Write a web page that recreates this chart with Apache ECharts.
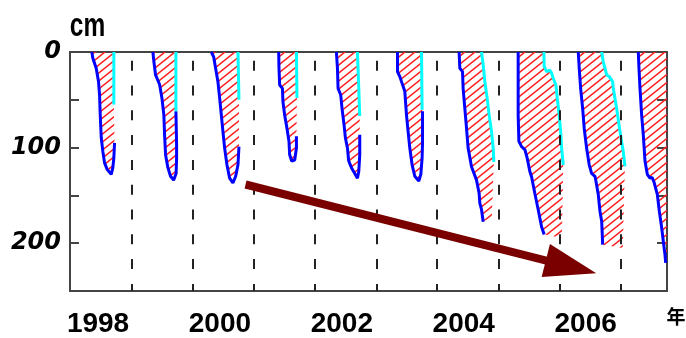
<!DOCTYPE html>
<html>
<head>
<meta charset="utf-8">
<script src="https://cdn.jsdelivr.net/npm/echarts@6/dist/echarts.min.js"></script>
<style>
  html, body { margin: 0; padding: 0; background: #fff; }
  #chart { width: 686px; height: 338px; }
</style>
</head>
<body>
<div id="chart"></div>
<script>
// Axis labels
const yearTicks = [1998, 2000, 2002, 2004, 2006];
const depthLabels = [0, 100, 200];

// Summer boundaries between winters (decimal year)
const seasonBreaks = [1998.56, 1999.55, 2000.56, 2001.56, 2002.57, 2003.56, 2004.57, 2005.58, 2006.58];

// Trend arrow [decimal year, depth cm]
const trendArrow = [[2000.42, 138.6], [2005.76, 224.8]];

// Frost front (freezing downward, then thawing back up from below), [decimal year, depth cm]
const frost1998 = [[1997.898, 0], [1997.915, 6.6], [1997.970, 17], [1998.008, 31], [1998.025, 45], [1998.036, 66], [1998.053, 90], [1998.079, 104], [1998.107, 116], [1998.151, 123], [1998.217, 128], [1998.243, 121], [1998.259, 111], [1998.271, 95]];
const frost1999 = [[1998.900, 0], [1998.916, 10], [1998.944, 24], [1999.010, 34], [1999.048, 48], [1999.080, 66], [1999.092, 87], [1999.108, 107.5], [1999.146, 121], [1999.190, 130], [1999.240, 134], [1999.281, 127], [1999.289, 111], [1999.289, 97], [1999.278, 62]];
const frost2000 = [[1999.859, 0], [1999.897, 5], [1999.929, 17], [1999.967, 31], [1999.995, 48], [2000.023, 66], [2000.049, 83], [2000.077, 100.5], [2000.115, 118], [2000.159, 132], [2000.213, 137], [2000.258, 130], [2000.296, 118], [2000.312, 99]];
const frost2001 = [[2000.964, 0], [2000.969, 17], [2000.980, 34.5], [2001.025, 38], [2001.034, 52], [2001.062, 66], [2001.100, 80], [2001.133, 93.5], [2001.144, 107.5], [2001.177, 114], [2001.227, 113], [2001.255, 100.5], [2001.255, 88]];
const frost2002 = [[2001.911, 0], [2001.928, 17], [2001.938, 38], [2001.982, 45], [2002.003, 59], [2002.036, 76], [2002.059, 90], [2002.092, 100.5], [2002.113, 114], [2002.158, 121], [2002.212, 127], [2002.256, 132], [2002.278, 125], [2002.294, 107.5], [2002.294, 86.6]];
const frost2003 = [[2002.913, 0], [2002.913, 20.5], [2002.951, 25.7], [2002.979, 31], [2003.033, 41], [2003.061, 66], [2003.087, 83], [2003.115, 100.5], [2003.153, 118], [2003.197, 130], [2003.263, 135], [2003.296, 128], [2003.317, 111], [2003.324, 95], [2003.324, 62]];
const frost2004 = [[2003.924, 0], [2003.936, 17], [2003.980, 20.5], [2003.990, 38], [2004.018, 59], [2004.046, 80], [2004.072, 100.5], [2004.128, 120], [2004.210, 134], [2004.253, 148], [2004.264, 158], [2004.292, 165], [2004.319, 177.5]];
const frost2005 = [[2004.893, 0], [2004.893, 66], [2004.905, 93.5], [2004.949, 99], [2005.003, 102], [2005.041, 111], [2005.085, 125], [2005.113, 130.5], [2005.167, 148], [2005.222, 165], [2005.278, 183], [2005.320, 191]];
const frost2006 = [[2005.879, 0], [2005.895, 17], [2005.918, 38], [2005.951, 59], [2005.977, 80], [2006.016, 100.5], [2006.059, 118], [2006.098, 127], [2006.153, 130], [2006.169, 135], [2006.207, 149], [2006.235, 166.5], [2006.263, 177], [2006.273, 191], [2006.279, 201.5]];
const frost2007 = [[2006.864, 0], [2006.875, 17], [2006.892, 38], [2006.919, 66], [2006.946, 86.6], [2006.974, 114], [2007.012, 128], [2007.056, 132], [2007.089, 131], [2007.122, 136], [2007.176, 149], [2007.209, 166.5], [2007.248, 184], [2007.274, 198], [2007.302, 212], [2007.313, 220.5]];

// Thaw front from the surface, [decimal year, depth cm]
const thaw1998 = [[1998.259, 0], [1998.259, 55]];
const thaw1999 = [[1999.278, 0], [1999.278, 62]];
const thaw2000 = [[2000.296, 0], [2000.312, 50]];
const thaw2001 = [[2001.255, 0], [2001.264, 48]];
const thaw2002 = [[2002.256, 0], [2002.266, 17], [2002.294, 67]];
const thaw2003 = [[2003.307, 0], [2003.317, 60.5]];
const thaw2004 = [[2004.292, 0], [2004.319, 13.6], [2004.346, 31], [2004.384, 48], [2004.417, 66], [2004.456, 83], [2004.483, 100.5], [2004.494, 115]];
const thaw2005 = [[2005.315, 0], [2005.320, 15], [2005.360, 20.5], [2005.414, 19], [2005.442, 22], [2005.468, 27.5], [2005.512, 34.5], [2005.534, 48], [2005.567, 66], [2005.590, 83], [2005.606, 100.5], [2005.633, 118]];
const thaw2006 = [[2006.263, 0], [2006.289, 10], [2006.345, 24], [2006.388, 25.7], [2006.443, 31], [2006.453, 38], [2006.509, 59], [2006.563, 83], [2006.617, 104], [2006.645, 119.6]];
const thaw2007 = [];

// Undrawn edges of the frozen layer where no front was traced
const edge2004 = [[2004.461, 172.5]];
const edge2005 = [[2005.611, 194.5]];
const edge2006 = [[2006.609, 205]];
const edge2007 = [[2007.40, 225], [2007.40, 0]];

const winters = [
  { frost: frost1998, thaw: thaw1998, edge: [] },
  { frost: frost1999, thaw: thaw1999, edge: [] },
  { frost: frost2000, thaw: thaw2000, edge: [] },
  { frost: frost2001, thaw: thaw2001, edge: [] },
  { frost: frost2002, thaw: thaw2002, edge: [] },
  { frost: frost2003, thaw: thaw2003, edge: [] },
  { frost: frost2004, thaw: thaw2004, edge: edge2004 },
  { frost: frost2005, thaw: thaw2005, edge: edge2005 },
  { frost: frost2006, thaw: thaw2006, edge: edge2006 },
  { frost: frost2007, thaw: thaw2007, edge: edge2007 }
];

// Red diagonal hatch tile for the frozen layer
function makeHatch() {
  const c = document.createElement('canvas');
  c.width = 10; c.height = 8;
  const g = c.getContext('2d');
  g.strokeStyle = '#ff2020';
  g.lineWidth = 1.45;
  for (let k = -1; k <= 2; k++) {
    g.beginPath();
    g.moveTo(-1, 8 * k + 0.8);
    g.lineTo(11, 8 * k - 8.8);
    g.stroke();
  }
  return c;
}
const hatchFill = { image: makeHatch(), repeat: 'repeat' };

const chart = echarts.init(document.getElementById('chart'), null, { renderer: 'canvas' });

const frameColor = '#444';

const series = [];

// Hatched frozen layer polygons
series.push({
  type: 'custom',
  clip: true,
  silent: true,
  z: 1,
  data: winters.map(w => w.frost[0]),
  renderItem: function (params, api) {
    const w = winters[params.dataIndex];
    const pts = w.frost.concat(w.edge, w.thaw.slice().reverse()).map(p => api.coord(p));
    return {
      type: 'polygon',
      shape: { points: pts },
      style: { fill: hatchFill, stroke: null }
    };
  }
});

// Dashed season separators
series.push({
  type: 'line',
  data: [],
  silent: true,
  z: 2,
  markLine: {
    silent: true,
    symbol: ['none', 'none'],
    label: { show: false },
    lineStyle: { color: '#222', width: 2, type: [10, 14.8], dashOffset: 16.1 },
    data: seasonBreaks.map(x => [{ coord: [x, 0] }, { coord: [x, 250] }])
  }
});

// Frost fronts (blue) and thaw fronts (cyan)
winters.forEach(w => {
  series.push({
    type: 'line', data: w.frost, symbol: 'none', clip: true, silent: true, z: 3,
    lineStyle: { color: '#0000ff', width: 3 }
  });
  if (w.thaw.length) {
    series.push({
      type: 'line', data: w.thaw, symbol: 'none', clip: true, silent: true, z: 3,
      lineStyle: { color: '#00ffff', width: 3 }
    });
  }
});

// Trend arrow
series.push({
  type: 'line',
  data: [],
  silent: true,
  z: 5,
  markLine: {
    silent: true,
    symbol: ['none', 'triangle'],
    symbolSize: [34, 52],
    label: { show: false },
    lineStyle: { color: '#7a0000', width: 8, type: 'solid', opacity: 1 },
    itemStyle: { color: '#7a0000' },
    data: [[{ coord: trendArrow[0] }, { coord: trendArrow[1] }]]
  }
});

chart.setOption({
  animation: false,
  backgroundColor: '#fff',
  grid: {
    left: 70, right: 19, top: 52, bottom: 46,
    show: true, borderColor: frameColor, borderWidth: 2, backgroundColor: 'transparent'
  },
  xAxis: {
    type: 'value',
    min: 1997.54,
    max: 2007.335,
    axisLine: { show: true, lineStyle: { color: frameColor, width: 2 } },
    axisTick: { show: false },
    splitLine: { show: false },
    axisLabel: {
      customValues: yearTicks,
      formatter: v => String(v),
      color: '#000',
      fontFamily: 'Liberation Sans',
      fontWeight: 'bold',
      fontSize: 28,
      margin: 19
    }
  },
  yAxis: [
    {
      type: 'value',
      inverse: true,
      min: 0, max: 250, interval: 50,
      axisLine: { show: true, lineStyle: { color: frameColor, width: 2 } },
      axisTick: { show: true, inside: true, length: 9, lineStyle: { color: frameColor, width: 2 } },
      splitLine: { show: false },
      axisLabel: {
        formatter: v => (depthLabels.indexOf(v) >= 0 ? String(v) : ''),
        color: '#000',
        fontFamily: 'DejaVu Sans',
        fontWeight: 'bold',
        fontStyle: 'italic',
        fontSize: 24,
        margin: 9
      }
    },
    {
      type: 'value',
      inverse: true,
      position: 'right',
      min: 0, max: 250, interval: 50,
      axisLine: { show: true, lineStyle: { color: frameColor, width: 2 } },
      axisTick: { show: true, inside: true, length: 10, lineStyle: { color: frameColor, width: 2 } },
      splitLine: { show: false },
      axisLabel: { show: false }
    }
  ],
  graphic: [
    {
      type: 'text', x: 87.5, y: 27, scaleX: 0.72, silent: true,
      style: { text: 'cm', font: 'bold 34px "Liberation Sans"', fill: '#000', align: 'center', verticalAlign: 'middle' }
    },
    {
      type: 'text', x: 676, y: 317, silent: true,
      style: { text: '年', font: 'bold 19px "Noto Sans CJK JP"', fill: '#000', align: 'center', verticalAlign: 'middle' }
    }
  ],
  series: series
});
</script>
</body>
</html>
